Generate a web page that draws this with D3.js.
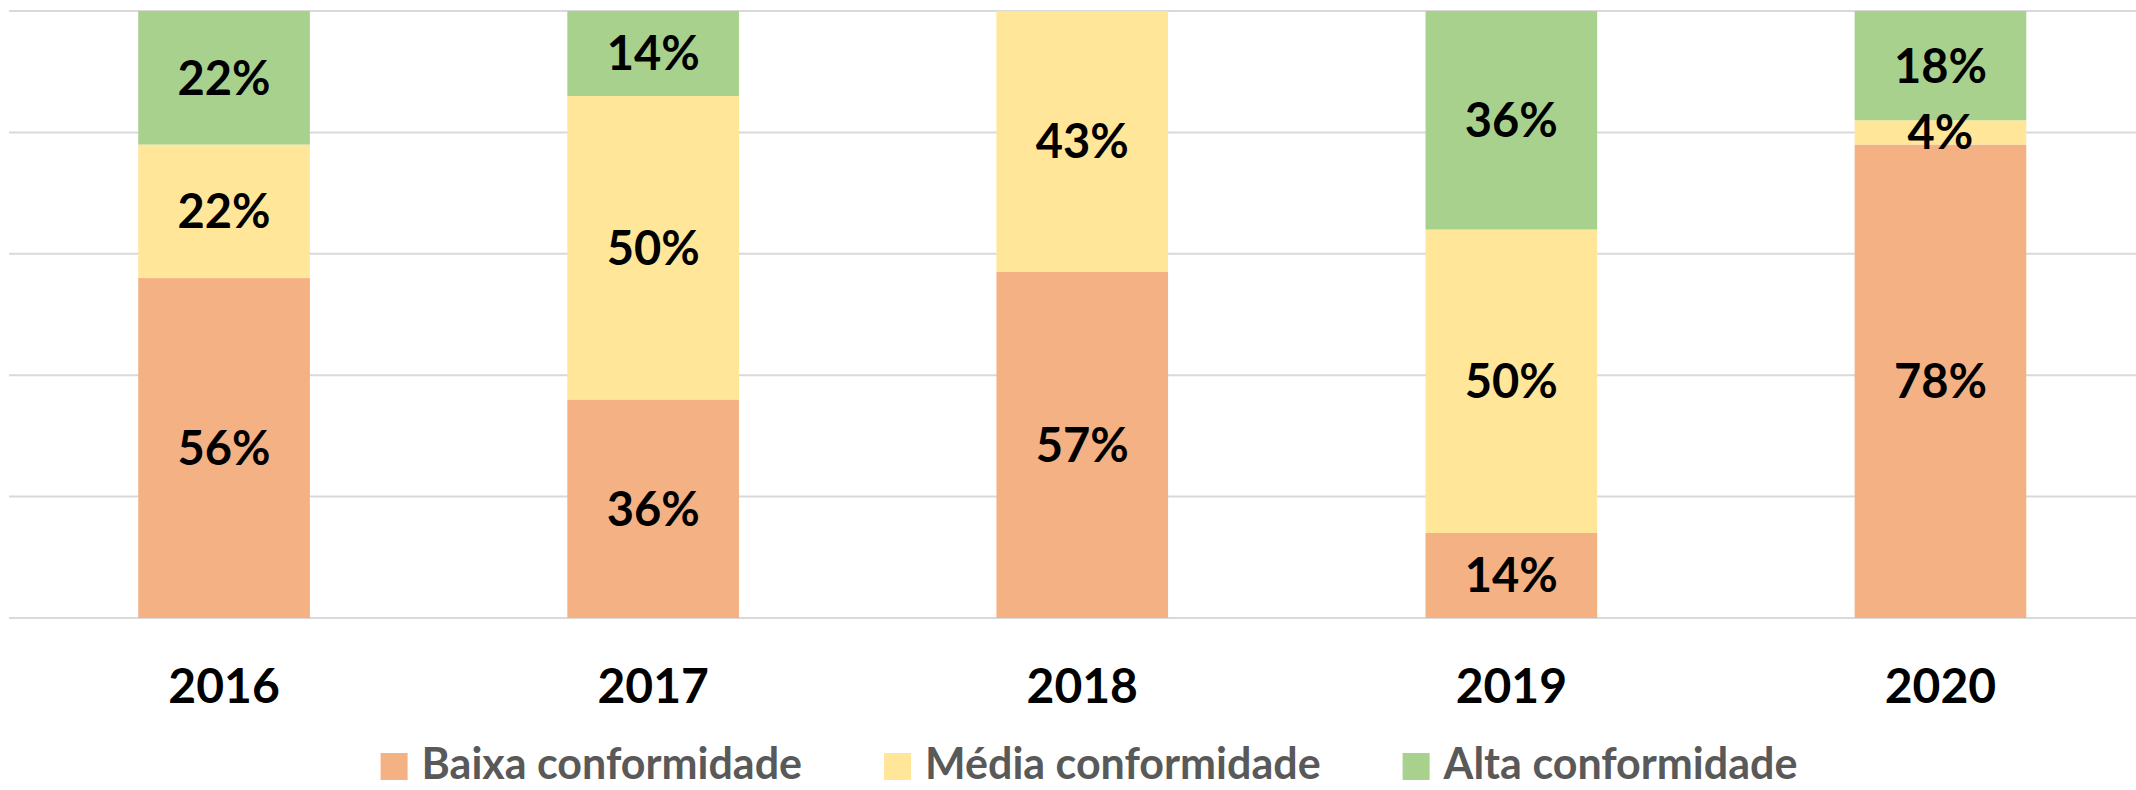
<!DOCTYPE html>
<html>
<head>
<meta charset="utf-8">
<script src="https://cdn.jsdelivr.net/npm/d3@7"></script>
<style>
  html, body { margin: 0; padding: 0; background: #fff; }
  svg { display: block; }
</style>
</head>
<body>
<svg id="chart"></svg>
<script>
// data
const years = ['2016', '2017', '2018', '2019', '2020'];
const seriesNames = ['Baixa conformidade', 'Média conformidade', 'Alta conformidade'];
const baixa = [56, 36, 57, 14, 78];
const media = [22, 50, 43, 50, 4];
const alta = [22, 14, 0, 36, 18];
const yTicks = [0, 20, 40, 60, 80, 100];

const colors = ['#F4B183', '#FFE699', '#A9D18E'];

const width = 2136;
const height = 790;

const rows = years.map((y, i) => ({ year: y, baixa: baixa[i], media: media[i], alta: alta[i] }));
const keys = ['baixa', 'media', 'alta'];

const svg = d3.select('#chart')
    .attr('width', width)
    .attr('height', height);

const x = d3.scaleBand()
    .domain(years)
    .range([9.5, 2155])
    .paddingInner(0.6)
    .paddingOuter(0.3);

const y = d3.scaleLinear()
    .domain([0, 100])
    .range([618, 11]);

// gridlines
svg.append('g')
    .selectAll('line')
    .data(yTicks)
    .enter()
    .append('line')
    .attr('x1', 9)
    .attr('x2', width)
    .attr('y1', d => y(d))
    .attr('y2', d => y(d))
    .attr('stroke', '#D9D9D9')
    .attr('stroke-width', 2);

const stack = d3.stack().keys(keys);
const layers = stack(rows);

const groups = svg.append('g')
    .selectAll('g')
    .data(layers)
    .enter()
    .append('g')
    .attr('fill', (d, i) => colors[i]);

groups.selectAll('rect')
    .data(d => d)
    .enter()
    .append('rect')
    .attr('x', d => x(d.data.year))
    .attr('width', x.bandwidth())
    .attr('y', d => y(d[1]))
    .attr('height', d => y(d[0]) - y(d[1]));

// value labels
const labelGroups = svg.append('g')
    .selectAll('g')
    .data(layers)
    .enter()
    .append('g');

labelGroups.selectAll('text')
    .data(d => d.filter(p => p[1] - p[0] > 0))
    .enter()
    .append('text')
    .attr('x', d => x(d.data.year) + x.bandwidth() / 2)
    .attr('y', d => (y(d[0]) + y(d[1])) / 2)
    .attr('dy', '0.36em')
    .attr('text-anchor', 'middle')
    .style('font-family', 'Lato, "Open Sans", sans-serif')
    .style('font-weight', 'bold')
    .style('font-size', '47px')
    .attr('fill', '#000')
    .text(d => `${d[1] - d[0]}%`);

// x axis labels
const xAxis = d3.axisBottom(x).tickSize(0).tickPadding(0);
const xg = svg.append('g')
    .attr('transform', 'translate(0,686)')
    .call(xAxis);
xg.select('.domain').remove();
xg.selectAll('text')
    .attr('dy', '0.36em')
    .attr('y', 0)
    .style('font-family', 'Lato, "Open Sans", sans-serif')
    .style('font-weight', 'bold')
    .style('font-size', '48px')
    .attr('fill', '#000');

// legend
const legend = svg.append('g');
const items = legend.selectAll('g')
    .data(seriesNames)
    .enter()
    .append('g');

items.append('rect')
    .attr('width', 27)
    .attr('height', 27)
    .attr('y', 753)
    .attr('fill', (d, i) => colors[i]);

items.append('text')
    .attr('x', 41)
    .attr('y', 779)
    .style('font-family', 'Lato, "Open Sans", sans-serif')
    .style('font-weight', 'bold')
    .style('font-size', '43px')
    .attr('fill', '#595959')
    .text(d => d);

let offset = 0;
const itemWidths = [];
items.each(function() {
    const w = 41 + this.querySelector('text').getComputedTextLength();
    itemWidths.push(w);
});
const gap = 82;
const total = d3.sum(itemWidths) + gap * (itemWidths.length - 1);
let startX = 1089 - total / 2;
items.attr('transform', (d, i) => {
    const tx = startX + offset;
    offset += itemWidths[i] + gap;
    return `translate(${tx},0)`;
});
</script>
</body>
</html>
